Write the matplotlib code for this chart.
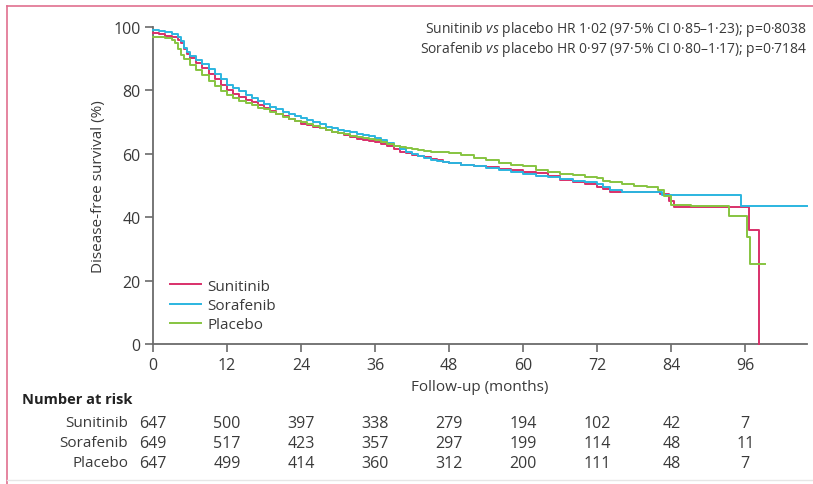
import matplotlib
matplotlib.use("Agg")
import matplotlib.pyplot as plt
import matplotlib.transforms as mtransforms
from matplotlib.lines import Line2D

plt.rcParams["font.family"] = ["Open Sans", "DejaVu Sans"]
plt.rcParams["mathtext.fontset"] = "custom"
plt.rcParams["mathtext.it"] = "Open Sans:italic"
plt.rcParams["mathtext.rm"] = "Open Sans"

# Kaplan-Meier knots (months, % disease-free)
t_sun = [0, 1, 2, 3, 4, 4.6, 5, 5.5, 6, 7, 8, 9, 10, 11, 12, 13, 14, 15, 16, 17, 18, 19, 20,
         21, 22, 23, 24, 25, 26, 27, 28, 29, 30, 31, 32, 33, 34, 35, 36, 37, 38, 39, 40, 41,
         42, 43, 44, 45, 46, 47, 48, 50, 52, 54, 56, 58, 60, 62, 64, 66, 68, 70, 72, 73, 74,
         82.2, 83.7, 84.5, 96.6, 98.2]
s_sun = [98, 97.7, 97.3, 96.8, 96, 95, 93, 91.5, 90.3, 88.6, 87, 85.3, 83.6, 81.8, 80, 78.9,
         78, 77, 76.2, 75.3, 74.5, 73.6, 72.7, 71.8, 71, 70.2, 69.5, 69, 68.5, 68, 67.5, 67,
         66.5, 65.8, 65.2, 64.8, 64.4, 64, 63.6, 63, 62.4, 61.5, 60.6, 60.1, 59.7, 59.3, 58.9,
         58.4, 58, 57.5, 57, 56.5, 56, 55.7, 55.2, 54.9, 54.4, 53.9, 53.1, 51.8, 51.1, 50.5,
         49.6, 48.8, 48.1, 47.3, 45, 43.2, 36, 0]

t_sor = [0, 1, 2, 3, 4, 4.5, 5, 5.5, 6, 7, 8, 9, 10, 11, 12, 13, 14, 15, 16, 17, 18, 19, 20,
         21, 22, 23, 24, 25, 26, 27, 28, 29, 30, 31, 32, 33, 34, 35, 36, 37, 38, 39, 40, 41,
         42, 43, 44, 45, 46, 47, 48, 50, 52, 54, 56, 58, 60, 62, 64, 66, 68, 70, 72, 73, 74,
         76, 82.5, 95.3, 106]
s_sor = [99, 98.7, 98.3, 97.7, 96.8, 95.5, 93.5, 92, 91, 89.6, 88.2, 86.7, 85.2, 83.5, 81.8,
         80.8, 79.8, 78.7, 77.6, 76.6, 75.7, 74.8, 74, 73.3, 72.6, 72, 71.4, 70.7, 70, 69.3,
         68.6, 68, 67.6, 67.2, 66.8, 66.4, 66, 65.5, 65, 64.2, 63.3, 62.4, 61.5, 60.7, 60,
         59.4, 58.8, 58.2, 57.7, 57.3, 57, 56.5, 56, 55.4, 54.8, 54.3, 53.6, 53, 52.6, 52,
         51.5, 51, 50.5, 49.5, 48.6, 48, 47, 43.5, 43.5]

t_pla = [0, 1, 2, 3, 3.5, 4, 4.5, 5, 6, 7, 8, 9, 10, 11, 12, 13, 14, 15, 16, 17, 18, 19, 20,
         21, 22, 23, 24, 25, 26, 27, 28, 29, 30, 31, 32, 33, 34, 35, 36, 37, 38, 39, 40, 41,
         42, 43, 44, 45, 46, 47, 48, 50, 52, 54, 56, 58, 60, 62, 64, 66, 68, 70, 72, 73, 74,
         76, 78, 80, 81.8, 82.8, 84, 87.2, 93.4, 96.2, 96.7, 99.2]
s_pla = [97, 96.8, 96.5, 96, 95, 93, 91.2, 89.8, 88, 86.4, 84.8, 83.1, 81.5, 79.9, 78.5, 77.6,
         76.8, 76, 75.3, 74.6, 74, 73.2, 72.4, 71.7, 71, 70.5, 70, 69.4, 68.8, 68.2, 67.6, 67,
         66.6, 66.1, 65.7, 65.3, 65, 64.6, 64.2, 63.6, 63, 62.5, 62, 61.7, 61.4, 61.1, 60.9,
         60.7, 60.6, 60.5, 60.3, 59.5, 58.8, 58, 57, 56.5, 56, 55, 54.2, 53.6, 53.2, 52.7,
         52.4, 51.5, 51, 50.6, 50, 49.4, 48.6, 46.8, 44, 43.5, 40.4, 33.8, 25.2, 25.2]

groups = ["Sunitinib", "Sorafenib", "Placebo"]
colors = ["#d9306a", "#2bb5e0", "#86c440"]

risk_months = [0, 12, 24, 36, 48, 60, 72, 84, 96]
risk_sun = [647, 500, 397, 338, 279, 194, 102, 42, 7]
risk_sor = [649, 517, 423, 357, 297, 199, 114, 48, 11]
risk_pla = [647, 499, 414, 360, 312, 200, 111, 48, 7]

txt = "#3a3a3a"
W, H = 813, 485
fig = plt.figure(figsize=(W / 100, H / 100), dpi=100)
ax = fig.add_axes([153 / W, 1 - 345 / H, (807 - 153) / W, (345 - 28) / H])

for t, s, c, g in zip([t_sun, t_sor, t_pla], [s_sun, s_sor, s_pla], colors, groups):
    ax.step(t, s, where="post", color=c, lw=1.4, label=g, clip_on=False, zorder=3)

ax.set_xlim(0, 106)
ax.set_ylim(0, 100)
ax.set_xticks(risk_months)
ax.set_yticks(range(0, 101, 20))
for sp in ["top", "right"]:
    ax.spines[sp].set_visible(False)
for sp in ["left", "bottom"]:
    ax.spines[sp].set_color("#6b6b6b")
    ax.spines[sp].set_linewidth(1.3)
ax.tick_params(colors="#6b6b6b", labelcolor=txt, labelsize=11.5, length=6, width=1.2, pad=3)
ax.set_xlabel("Follow-up (months)", color=txt, fontsize=11, labelpad=5)
ax.set_ylabel("Disease-free survival (%)", color=txt, fontsize=11, labelpad=5)

ax.legend(loc="lower left", bbox_to_anchor=(0.005, -0.006), frameon=False, fontsize=11,
          handlelength=2.0, handletextpad=0.45, labelspacing=0.28, labelcolor=txt)

ax.text(1.0, 0.994, r"Sunitinib $\mathit{vs}$ placebo HR 1·02 (97·5% CI 0·85–1·23); p=0·8038",
        transform=ax.transAxes, ha="right", va="center", fontsize=10, color=txt)
ax.text(1.0, 0.931, r"Sorafenib $\mathit{vs}$ placebo HR 0·97 (97·5% CI 0·80–1·17); p=0·7184",
        transform=ax.transAxes, ha="right", va="center", fontsize=10, color=txt)

# number at risk table
tr = mtransforms.blended_transform_factory(ax.transData, fig.transFigure)
fig.text(22 / W, 1 - 400 / H, "Number at risk", fontsize=10.5, fontweight="bold",
         color="#222222", va="center")
for row, (g, vals) in enumerate(zip(groups, [risk_sun, risk_sor, risk_pla])):
    y = 1 - (424 + row * 20) / H
    fig.text(128 / W, y, g, ha="right", va="center", fontsize=11, color=txt)
    for m, v in zip(risk_months, vals):
        ax.text(m, y, str(v), transform=tr, ha="center", va="center", fontsize=11.5,
                color=txt, clip_on=False)

# frame lines of the source panel
fig.add_artist(Line2D([7 / W, 1], [1 - 7 / H, 1 - 7 / H], color="#e0708f", lw=1.2))
fig.add_artist(Line2D([7 / W, 7 / W], [0, 1 - 7 / H], color="#e0708f", lw=1.2))
fig.add_artist(Line2D([7 / W, 1], [1 - 481 / H, 1 - 481 / H], color="#e6e6e6", lw=1.0))

fig.savefig("out.png", dpi=100)
